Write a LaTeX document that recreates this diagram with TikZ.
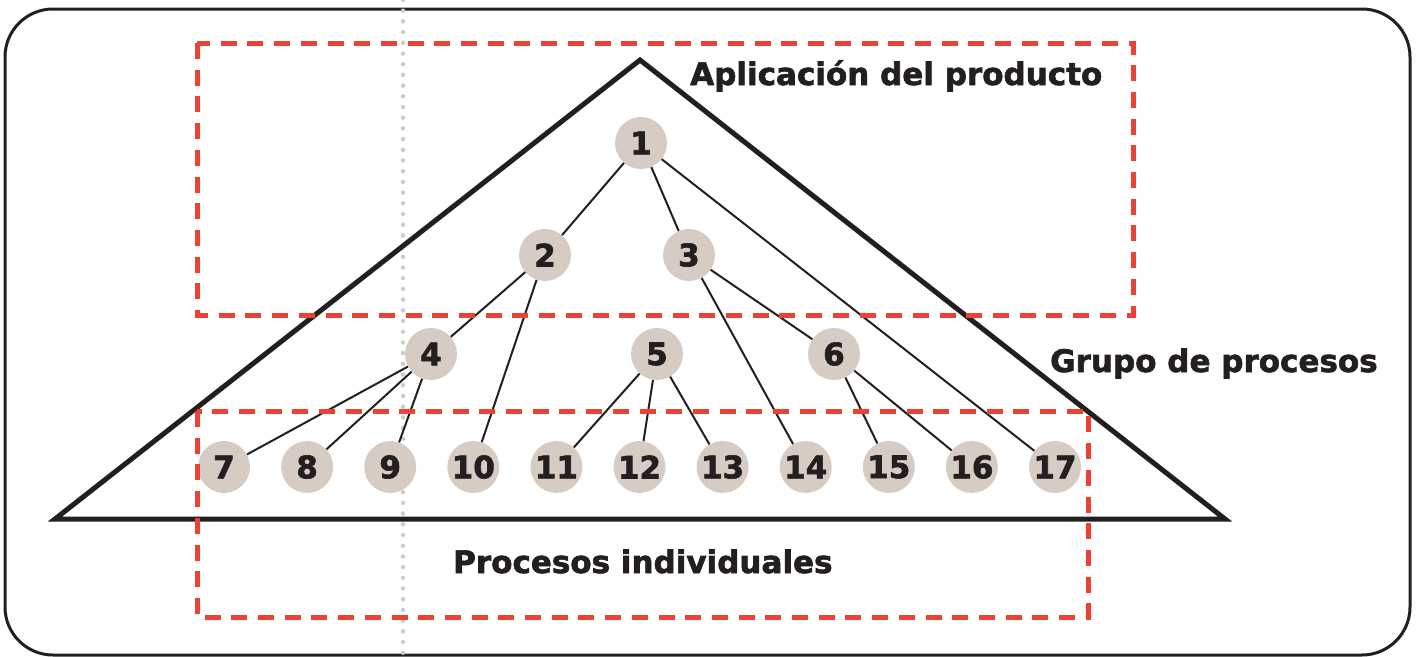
\documentclass[tikz,border=0pt]{standalone}
\usepackage{fontspec}
\setmainfont{DejaVu Sans}
\newfontfamily\heavyfont{DejaVu Sans Bold}[FakeBold=2]
\usepackage{tikz}
\definecolor{dashred}{HTML}{EE4136}
\definecolor{nodegray}{HTML}{D7CCC4}
\definecolor{dotgray}{HTML}{CCCCCC}
\definecolor{inkblack}{HTML}{231F20}

\tikzset{
  proc/.style={circle, fill=nodegray, minimum size=52pt, inner sep=0pt,
    font=\fontsize{31}{31}\selectfont\heavyfont, text=inkblack},
  zone/.style={draw=dashred, line width=5pt, dash pattern=on 16pt off 10.7pt},
  title/.style={font=\fontsize{31}{36}\selectfont\heavyfont, text=inkblack,
    anchor=base west, inner sep=0pt},
  link/.style={draw=inkblack, line width=2pt}
}

\begin{document}
\begin{tikzpicture}[x=1pt,y=-1pt]
    \useasboundingbox (0,0) rectangle (1419,656);

    % Frame and guide line
    \draw[inkblack, line width=3pt, rounded corners=48pt] (5,9) rectangle (1410,655);
    \draw[dotgray, line width=4.5pt, line cap=round, dash pattern=on 0pt off 10.7pt] (403,0) -- (403,656);

    % Draw triangle
    \coordinate (T1) at (640,60);
    \coordinate (T2) at (1225,519);
    \coordinate (T3) at (55,519);
    \draw[inkblack, line width=5pt] (T1) -- (T2) -- (T3) -- cycle;

    % Define nodes
    \node[proc] (P1) at (641,143) {1};
    \node[proc] (P2) at (545,255) {2};
    \node[proc] (P3) at (689,255) {3};
    \node[proc] (P4) at (431,354) {4};
    \node[proc] (P5) at (657,354) {5};
    \node[proc] (P6) at (834,354) {6};
    \foreach \i [count=\k from 0] in {7,...,17}
      \node[proc] (P\i) at (224+83.1*\k,467) {\i};

    % Draw lines between nodes
    \draw[link] (P1) -- (P2);
    \draw[link] (P1) -- (P3);
    \draw[link] (P1) -- (P17);
    \draw[link] (P2) -- (P4);
    \draw[link] (P2) -- (P10);
    \draw[link] (P3) -- (P6);
    \draw[link] (P3) -- (P14);
    \draw[link] (P4) -- (P7);
    \draw[link] (P4) -- (P8);
    \draw[link] (P4) -- (P9);
    \draw[link] (P5) -- (P11);
    \draw[link] (P5) -- (P12);
    \draw[link] (P5) -- (P13);
    \draw[link] (P6) -- (P15);
    \draw[link] (P6) -- (P16);

    % Dashed zones
    \draw[zone] (197,43) rectangle (1133,315);
    \draw[zone] (197,411) rectangle (1088,617);

    % Add labels
    \node[title] (app) at (690,85) {Aplicación del producto};
    \node[title] (grp) at (1050,372) {Grupo de procesos};
    \node[title] (ind) at (453,573) {Procesos individuales};
\end{tikzpicture}
\end{document}
